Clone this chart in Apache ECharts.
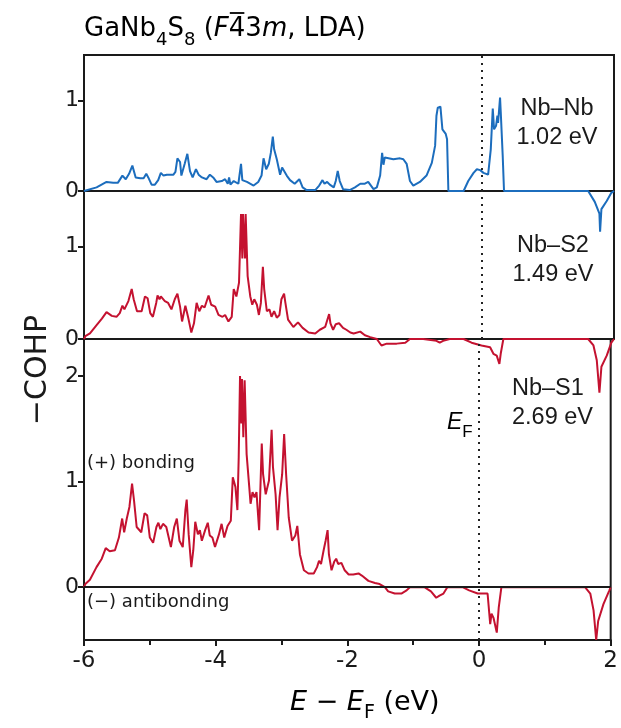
<!DOCTYPE html>
<html><head><meta charset="utf-8">
<script src="https://cdn.jsdelivr.net/npm/echarts@6/dist/echarts.min.js"></script>
<style>html,body{margin:0;padding:0;background:#fff}#c{width:621px;height:728px}</style>
</head><body><div id="c"></div>
<script>
// ---------- data (energy E - E_F in eV, -COHP) ----------
const nbnbE = [-6.00,-5.98,-5.81,-5.66,-5.56,-5.49,-5.42,-5.37,-5.32,-5.27,-5.22,-5.15,-5.10,-5.06,-5.03,-4.98,-4.93,-4.88,-4.84,-4.80,-4.75,-4.65,-4.62,-4.59,-4.55,-4.53,-4.48,-4.44,-4.40,-4.36,-4.31,-4.27,-4.22,-4.19,-4.15,-4.10,-4.05,-4.00,-3.92,-3.87,-3.83,-3.81,-3.79,-3.74,-3.67,-3.63,-3.61,-3.54,-3.44,-3.37,-3.32,-3.29,-3.25,-3.21,-3.18,-3.15,-3.13,-3.09,-3.04,-3.01,-2.98,-2.94,-2.89,-2.82,-2.75,-2.70,-2.64,-2.51,-2.45,-2.40,-2.37,-2.33,-2.29,-2.23,-2.20,-2.17,-2.14,-2.09,-1.99,-1.91,-1.83,-1.76,-1.71,-1.63,-1.58,-1.53,-1.50,-1.48,-1.46,-1.43,-1.33,-1.23,-1.18,-1.13,-1.08,-1.03,-0.93,-0.83,-0.75,-0.70,-0.68,-0.66,-0.64,-0.62,-0.59,-0.56,-0.54,-0.52,-0.50,-0.27,-0.20,-0.12,-0.07,-0.02,0.03,0.10,0.14,0.17,0.19,0.22,0.24,0.25,0.28,0.29,0.32,0.34,1.61,1.71,1.78,1.79,1.81,1.89,1.96,2.00];
const nbnbV = [0,0.00,0.04,0.10,0.09,0.09,0.17,0.13,0.19,0.28,0.15,0.14,0.14,0.19,0.15,0.07,0.07,0.12,0.20,0.17,0.18,0.18,0.21,0.36,0.32,0.17,0.30,0.41,0.22,0.15,0.24,0.18,0.15,0.17,0.13,0.18,0.15,0.10,0.11,0.13,0.08,0.15,0.07,0.11,0.08,0.30,0.12,0.10,0.06,0.10,0.17,0.36,0.24,0.30,0.42,0.60,0.46,0.35,0.18,0.26,0.28,0.17,0.12,0.08,0.13,0.04,0.01,0.01,0.06,0.12,0.08,0.10,0.07,0.04,0.11,0.22,0.11,0.02,0.01,0.04,0.08,0.08,0.10,0.02,0.04,0.17,0.42,0.29,0.37,0.35,0.35,0.36,0.35,0.30,0.11,0.06,0.10,0.17,0.31,0.50,0.83,0.92,0.90,0.93,0.68,0.66,0.63,0.57,0.00,0.00,0.11,0.20,0.24,0.23,0.20,0.18,0.46,0.91,0.68,0.72,0.83,0.75,1.03,0.88,0.39,0.00,0.00,-0.12,-0.25,-0.45,-0.20,-0.11,-0.02,0.00];

const nbs2E = [-6.00,-5.98,-5.91,-5.81,-5.73,-5.66,-5.58,-5.51,-5.46,-5.42,-5.39,-5.33,-5.28,-5.25,-5.20,-5.13,-5.08,-5.04,-5.00,-4.96,-4.91,-4.89,-4.86,-4.84,-4.78,-4.73,-4.68,-4.63,-4.59,-4.55,-4.52,-4.47,-4.43,-4.38,-4.34,-4.30,-4.26,-4.22,-4.18,-4.12,-4.08,-4.02,-3.97,-3.91,-3.87,-3.82,-3.77,-3.74,-3.70,-3.66,-3.63,-3.61,-3.60,-3.57,-3.56,-3.53,-3.49,-3.46,-3.43,-3.39,-3.36,-3.33,-3.30,-3.28,-3.24,-3.20,-3.17,-3.13,-3.09,-3.05,-3.02,-2.98,-2.96,-2.92,-2.84,-2.77,-2.70,-2.61,-2.51,-2.44,-2.36,-2.33,-2.30,-2.28,-2.24,-2.20,-2.15,-2.09,-2.04,-1.98,-1.93,-1.83,-1.76,-1.68,-1.58,-1.51,-1.43,-1.28,-1.15,-1.08,-0.88,-0.68,-0.63,-0.58,-0.48,-0.27,-0.15,0.00,0.13,0.18,0.23,0.27,0.29,0.33,1.61,1.69,1.74,1.78,1.81,1.89,1.96,2.00];
const nbs2V = [0.0,0.03,0.06,0.15,0.22,0.29,0.25,0.24,0.28,0.36,0.32,0.41,0.54,0.43,0.30,0.30,0.46,0.44,0.28,0.24,0.39,0.47,0.43,0.46,0.41,0.39,0.32,0.43,0.49,0.35,0.19,0.36,0.24,0.07,0.17,0.39,0.30,0.36,0.34,0.47,0.37,0.35,0.26,0.24,0.26,0.19,0.24,0.54,0.46,0.61,1.35,0.87,1.35,0.87,1.35,0.68,0.46,0.37,0.43,0.37,0.26,0.39,0.78,0.54,0.30,0.32,0.24,0.30,0.23,0.26,0.43,0.49,0.39,0.21,0.13,0.18,0.12,0.07,0.06,0.10,0.13,0.20,0.27,0.17,0.10,0.16,0.17,0.12,0.10,0.07,0.06,0.08,0.04,0.02,0.00,-0.07,-0.05,-0.05,-0.04,0.00,0.00,-0.02,-0.04,-0.02,0.00,0.00,-0.04,-0.07,-0.09,-0.16,-0.18,-0.27,-0.16,0.00,0.00,-0.07,-0.23,-0.58,-0.30,-0.18,-0.04,0.00];

const nbs1E = [-6.00,-5.98,-5.91,-5.81,-5.73,-5.67,-5.61,-5.53,-5.47,-5.42,-5.39,-5.35,-5.31,-5.27,-5.24,-5.20,-5.13,-5.08,-5.04,-5.00,-4.95,-4.90,-4.87,-4.84,-4.80,-4.75,-4.68,-4.63,-4.59,-4.55,-4.50,-4.46,-4.44,-4.41,-4.37,-4.34,-4.31,-4.27,-4.24,-4.21,-4.16,-4.12,-4.09,-4.05,-4.01,-3.95,-3.91,-3.87,-3.82,-3.77,-3.74,-3.70,-3.67,-3.65,-3.63,-3.61,-3.60,-3.58,-3.56,-3.53,-3.49,-3.47,-3.44,-3.41,-3.38,-3.34,-3.30,-3.28,-3.24,-3.19,-3.15,-3.13,-3.09,-3.06,-3.03,-2.99,-2.96,-2.93,-2.89,-2.84,-2.79,-2.76,-2.72,-2.66,-2.59,-2.51,-2.46,-2.43,-2.40,-2.36,-2.33,-2.30,-2.28,-2.24,-2.20,-2.17,-2.14,-2.09,-2.04,-1.98,-1.91,-1.83,-1.78,-1.68,-1.58,-1.51,-1.43,-1.38,-1.28,-1.18,-1.10,-1.05,-0.83,-0.73,-0.65,-0.60,-0.54,-0.50,-0.48,-0.25,-0.15,-0.02,0.13,0.17,0.19,0.22,0.27,0.30,0.34,1.61,1.69,1.74,1.78,1.81,1.89,1.98,2.00];
const nbs1V = [0.0,0.03,0.07,0.19,0.27,0.37,0.34,0.35,0.47,0.65,0.52,0.65,0.76,0.98,0.82,0.57,0.52,0.70,0.68,0.47,0.42,0.57,0.61,0.55,0.60,0.57,0.38,0.57,0.65,0.44,0.38,0.73,0.83,0.50,0.19,0.35,0.62,0.50,0.54,0.44,0.54,0.61,0.49,0.47,0.38,0.50,0.60,0.47,0.58,0.63,1.04,0.95,0.73,1.23,2.00,1.55,1.97,1.42,1.96,1.26,0.95,0.79,0.90,0.85,0.90,0.54,1.36,1.07,0.88,1.01,1.49,1.14,0.88,0.54,0.85,1.07,1.45,1.07,0.66,0.44,0.49,0.58,0.31,0.16,0.13,0.13,0.19,0.25,0.22,0.35,0.44,0.54,0.31,0.16,0.24,0.27,0.22,0.23,0.16,0.12,0.12,0.13,0.11,0.06,0.04,0.03,0.00,-0.04,-0.06,-0.06,-0.03,0.00,0.00,-0.04,-0.10,-0.08,-0.06,-0.02,0.00,0.00,-0.03,-0.06,-0.06,-0.35,-0.25,-0.29,-0.43,-0.19,0.00,0.00,-0.06,-0.22,-0.50,-0.32,-0.16,-0.03,0.00];

const xTickValues = [-6, -4, -2, 0, 2];
const yTicksTop = [0, 1];
const yTicksMid = [0, 1];
const yTicksBot = [0, 1, 2];
const bondNames = ['Nb–Nb', 'Nb–S2', 'Nb–S1'];
const bondEnergies = ['1.02 eV', '1.49 eV', '2.69 eV'];

// ---------- chart ----------
const chart = echarts.init(document.getElementById('c'), null, {renderer: 'canvas'});
const zip = (a, b) => a.map((v, i) => [v, b[i]]);
const FONT = 'DejaVu Sans';
const INK = '#1a1a1a';
const BLUE = '#1c6dbd';
const RED = '#c41230';

const gridBase = {left: 84, right: 7, show: true, borderColor: INK, borderWidth: 2, backgroundColor: 'transparent'};
const grids = [
  Object.assign({top: 55, height: 136}, gridBase),
  Object.assign({top: 191, height: 148}, gridBase),
  Object.assign({top: 339, height: 301}, gridBase)
];

function xAx(i) {
  const last = i === 2;
  return {
    type: 'value', gridIndex: i, min: -6, max: 2, interval: 2,
    axisLine: {show: last, onZero: false, lineStyle: {color: INK, width: 2}},
    axisTick: {show: last, inside: false, length: 6, lineStyle: {color: INK, width: 2}},
    minorTick: {show: last, splitNumber: 2, length: 5, lineStyle: {color: INK, width: 2}},
    axisLabel: {show: last, fontFamily: FONT, fontSize: 23, color: INK, margin: 10,
      customValues: xTickValues},
    splitLine: {show: false}, minorSplitLine: {show: false}
  };
}
function yAx(i, min, max, ticks) {
  return {
    type: 'value', gridIndex: i, min: min, max: max,
    axisLine: {show: true, onZero: false, lineStyle: {color: INK, width: 2}},
    axisTick: {show: true, inside: false, length: 6, lineStyle: {color: INK, width: 2}, customValues: ticks},
    axisLabel: {fontFamily: FONT, fontSize: 22, color: INK, margin: 5, customValues: ticks},
    splitLine: {show: false}
  };
}

const efLine = {xAxis: 0, lineStyle: {type: [2, 5], color: '#222', width: 2}};
const zeroLine = {yAxis: 0, lineStyle: {type: 'solid', color: INK, width: 2}};
function mk(data) {
  return {silent: true, symbol: ['none', 'none'], label: {show: false}, animation: false, data: data};
}
function ser(i, E, V, color, marks) {
  return {
    type: 'line', xAxisIndex: i, yAxisIndex: i, data: zip(E, V),
    showSymbol: false, symbol: 'none', clip: false, z: 3,
    lineStyle: {color: color, width: 2}, itemStyle: {color: color},
    markLine: mk(marks)
  };
}

// measure title pieces to place the overline over the "4" of F-43m
const mctx = document.createElement('canvas').getContext('2d');
function tw(txt, font) { mctx.font = font; return mctx.measureText(txt).width; }
const TS = 26, SS = 18, TTOP = 16;
const barX = 84 + tw('GaNb', TS + 'px "DejaVu Sans"') + tw('4', SS + 'px "DejaVu Sans"') +
  tw('S', TS + 'px "DejaVu Sans"') + tw('8', SS + 'px "DejaVu Sans"') + tw(' (', TS + 'px "DejaVu Sans"') +
  tw('F', 'italic ' + TS + 'px "DejaVu Sans"');
const barW = tw('4', TS + 'px "DejaVu Sans"');

chart.setOption({
  animation: false,
  backgroundColor: '#fff',
  grid: grids,
  xAxis: [xAx(0), xAx(1), xAx(2)],
  yAxis: [yAx(0, 0, 1.5, yTicksTop), yAx(1, 0, 1.6, yTicksMid), yAx(2, -0.5, 2.35, yTicksBot)],
  series: [
    ser(0, nbnbE, nbnbV, BLUE, [efLine]),
    ser(1, nbs2E, nbs2V, RED, [efLine]),
    ser(2, nbs1E, nbs1V, RED, [efLine, zeroLine])
  ],
  graphic: [
    {type: 'text', left: 84, top: TTOP, style: {
      text: '{t|GaNb}{s|4}{t|S}{s|8}{t| (}{i|F}{t|43}{i|m}{t|, LDA)}',
      rich: {
        t: {fontFamily: FONT, fontSize: TS, color: INK, lineHeight: 40},
        i: {fontFamily: FONT, fontSize: TS, fontStyle: 'italic', color: INK, lineHeight: 40},
        s: {fontFamily: FONT, fontSize: SS, color: INK, verticalAlign: 'bottom', lineHeight: SS}
      }}},
    {type: 'line', shape: {x1: barX + 1, y1: 13, x2: barX + barW - 1, y2: 13}, style: {stroke: INK, lineWidth: 2}},
    {type: 'text', x: 557, y: 94, style: {text: bondNames[0] + '\n' + bondEnergies[0], font: '23.5px "Liberation Sans"', fill: INK, align: 'center', lineHeight: 29}},
    {type: 'text', x: 553, y: 231, style: {text: bondNames[1] + '\n' + bondEnergies[1], font: '23.5px "Liberation Sans"', fill: INK, align: 'center', lineHeight: 29}},
    {type: 'text', x: 512, y: 374, style: {text: bondNames[2] + '\n' + bondEnergies[2], font: '23.5px "Liberation Sans"', fill: INK, align: 'left', lineHeight: 29}},
    {type: 'text', left: 447, top: 411, style: {
      text: '{i|E}{s|F}',
      rich: {i: {fontFamily: 'Liberation Sans', fontSize: 23, fontStyle: 'italic', color: INK, lineHeight: 36}, s: {fontFamily: 'Liberation Sans', fontSize: 17, color: INK, verticalAlign: 'bottom', lineHeight: 17}}}},
    {type: 'text', left: 87, top: 454, style: {text: '(+) bonding', font: '18px "DejaVu Sans"', fill: INK}},
    {type: 'text', left: 87, top: 593, style: {text: '(\u2212) antibonding', font: '18px "DejaVu Sans"', fill: INK}},
    {type: 'text', x: 38, y: 370, rotation: Math.PI / 2, style: {text: '\u2212COHP', font: '30px "DejaVu Sans"', fill: INK, align: 'center', verticalAlign: 'middle'}},
    {type: 'text', left: 290, top: 689, style: {
      text: '{i|E}{t| \u2212 }{i|E}{s|F}{t| (eV)}',
      rich: {
        t: {fontFamily: FONT, fontSize: 27, color: INK, lineHeight: 40},
        i: {fontFamily: FONT, fontSize: 27, fontStyle: 'italic', color: INK, lineHeight: 40},
        s: {fontFamily: FONT, fontSize: 19, color: INK, verticalAlign: 'bottom', lineHeight: 19}
      }}}
  ]
});
</script>
</body></html>
